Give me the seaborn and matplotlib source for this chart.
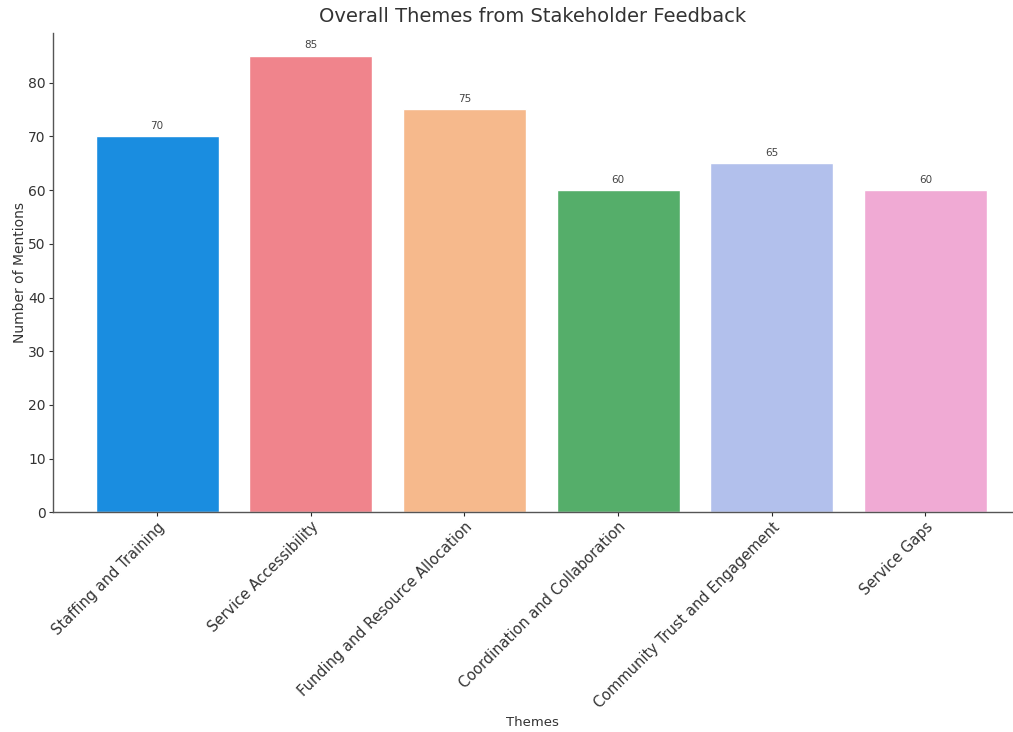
import matplotlib
matplotlib.use("Agg")
import matplotlib.pyplot as plt
import seaborn as sns
import pandas as pd

themes = [
    "Staffing and Training",
    "Service Accessibility",
    "Funding and Resource Allocation",
    "Coordination and Collaboration",
    "Community Trust and Engagement",
    "Service Gaps",
]
mentions = [70, 85, 75, 60, 65, 60]
bar_colors = ["#1a8de0", "#f0848c", "#f6b98c", "#55ae6a", "#b2c0ec", "#f0aad4"]

sns.set_style("white")
plt.rcParams["font.family"] = ["DejaVu Sans"]

df = pd.DataFrame({"Themes": themes, "Mentions": mentions})

fig = plt.figure(figsize=(10.13, 7.32), dpi=100)
ax = fig.add_axes([0.052, 0.30, 0.948, 0.655])

sns.barplot(data=df, x="Themes", y="Mentions", hue="Themes",
            palette=bar_colors, legend=False, width=0.8, saturation=1, ax=ax)

for i, v in enumerate(mentions):
    ax.text(i, v + 1.0, str(v), ha="center", va="bottom", fontsize=7.5, color="#444444")

ax.set_xlim(-0.68, 5.57)
ax.set_ylim(0, 89.25)
ax.set_title("Overall Themes from Stakeholder Feedback", fontsize=14, color="#333333", pad=8)
ax.set_xlabel("Themes", fontsize=9.5, color="#333333", labelpad=4)
ax.set_ylabel("Number of Mentions", fontsize=10, color="#333333", labelpad=1)
ax.set_xticks(range(len(themes)))
ax.set_xticklabels(themes, rotation=45, ha="right", rotation_mode="anchor", fontsize=10.5, color="#333333")
ax.tick_params(axis="y", labelsize=10, colors="#333333", length=3, left=True, pad=2)
ax.tick_params(axis="x", length=3, bottom=True, pad=2)
for s in ["top", "right"]:
    ax.spines[s].set_visible(False)
for s in ["left", "bottom"]:
    ax.spines[s].set_color("#555555")
    ax.spines[s].set_linewidth(1.0)

fig.savefig("out.png", dpi=100)
